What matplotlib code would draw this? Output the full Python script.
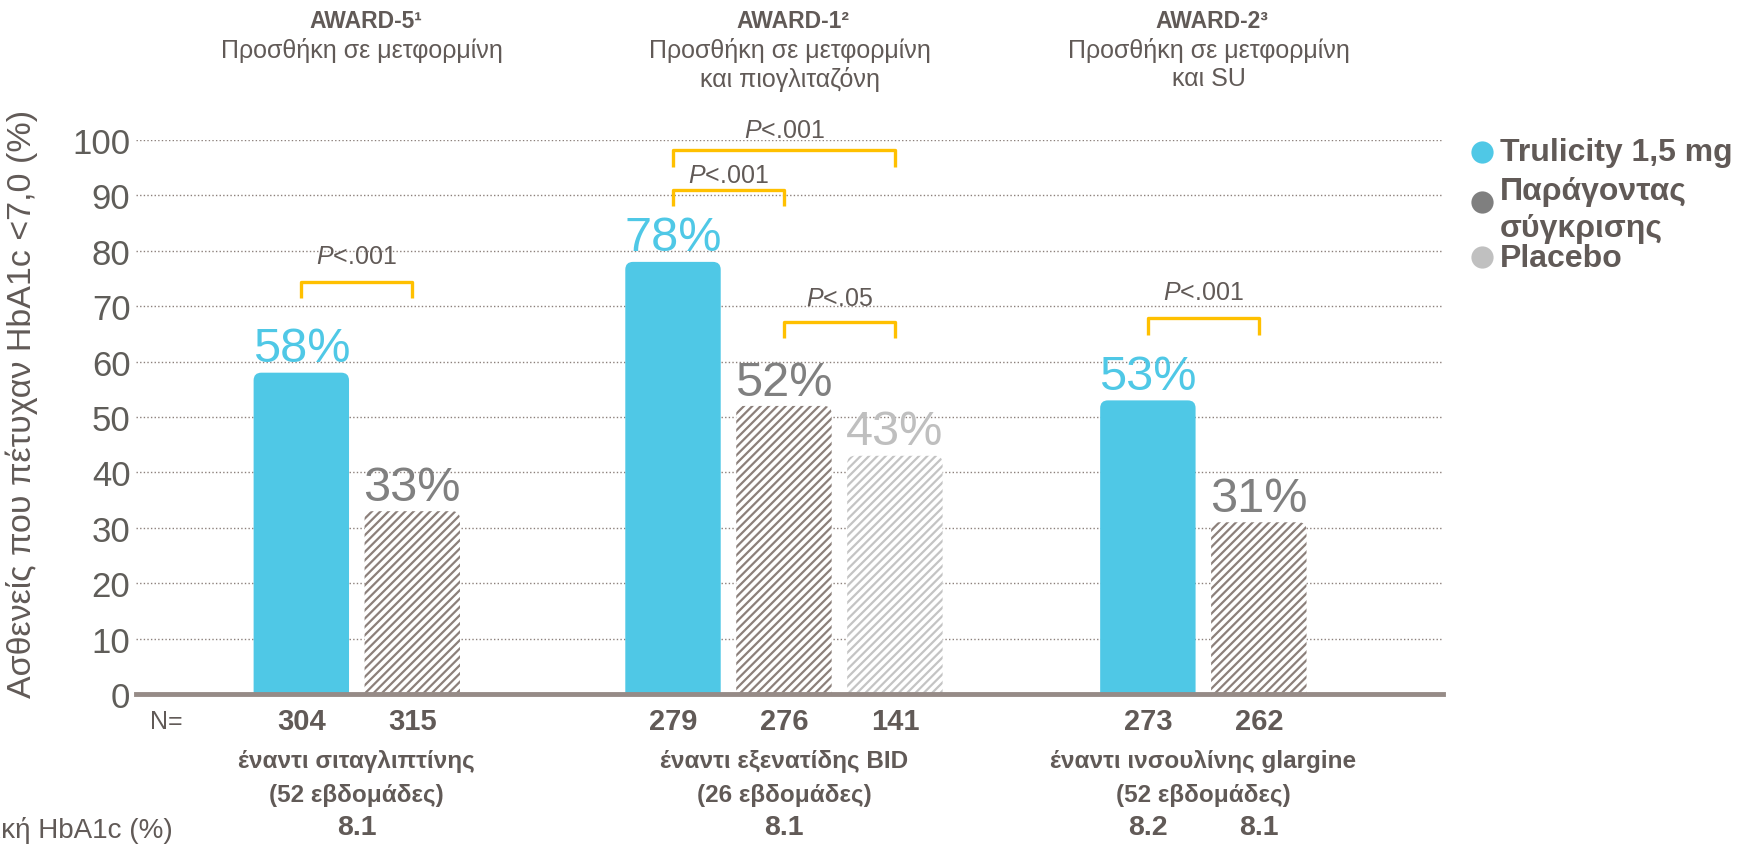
import matplotlib
matplotlib.use("Agg")
import matplotlib.pyplot as plt
from matplotlib.patches import FancyBboxPatch
from matplotlib.lines import Line2D
from matplotlib import transforms

plt.rcParams['font.family'] = ['Liberation Sans', 'DejaVu Sans']
plt.rcParams['mathtext.fontset'] = 'custom'
plt.rcParams['mathtext.it'] = 'Liberation Sans:italic'
plt.rcParams['mathtext.rm'] = 'Liberation Sans'
plt.rcParams['hatch.linewidth'] = 1.6

# ---------------- data ----------------
study_names = ['AWARD-5¹', 'AWARD-1²', 'AWARD-2³']
study_desc = ['Προσθήκη σε μετφορμίνη',
              'Προσθήκη σε μετφορμίνη\nκαι πιογλιταζόνη',
              'Προσθήκη σε μετφορμίνη\nκαι SU']
comparators = ['έναντι σιταγλιπτίνης', 'έναντι εξενατίδης BID', 'έναντι ινσουλίνης glargine']
durations = ['(52 εβδομάδες)', '(26 εβδομάδες)', '(52 εβδομάδες)']

# per-bar values (group index, series)
bar_group = [0, 0, 1, 1, 1, 2, 2]
bar_slot = [0, 1, 0, 1, 2, 0, 1]
bar_series = ['Trulicity', 'Comparator', 'Trulicity', 'Comparator', 'Placebo', 'Trulicity', 'Comparator']
bar_values = [58, 33, 78, 52, 43, 53, 31]
bar_n = [304, 315, 279, 276, 141, 273, 262]

# baseline HbA1c labels: (group, slot or None for group centre, text)
baseline_group = [0, 1, 2, 2]
baseline_slot = [None, 1, 0, 1]
baseline_text = ['8.1', '8.1', '8.2', '8.1']

# significance brackets
br_group = [0, 1, 1, 1, 2]
br_from = [0, 0, 0, 1, 0]
br_to = [1, 2, 1, 2, 1]
br_top = [74.4, 98.2, 91.0, 67.2, 67.8]
br_text_y = [79.0, 101.8, 93.6, 71.4, 72.6]
br_label = ['$\\mathit{P}$<.001', '$\\mathit{P}$<.001', '$\\mathit{P}$<.001',
            '$\\mathit{P}$<.05', '$\\mathit{P}$<.001']

legend_labels = ['Trulicity 1,5 mg', 'Παράγοντας', 'σύγκρισης', 'Placebo']

# ---------------- style ----------------
BLUE = '#4FC8E6'
DARK = '#8c807b'
LIGHT = '#c4c4c4'
TXT = '#615a57'
series_style = {
    'Trulicity': dict(fc=BLUE, ec=BLUE, hatch=None, label_color=BLUE),
    'Comparator': dict(fc='white', ec=DARK, hatch='////', label_color='#808080'),
    'Placebo': dict(fc='white', ec=LIGHT, hatch='////', label_color='#bfbfbf'),
}
group_start = [0.0, 3.35, 7.63]
bar_w = 0.86

W, H = 1750, 845
fig = plt.figure(figsize=(W / 100, H / 100), dpi=100)
ax = fig.add_axes([136 / W, 1 - 695 / H, (1443 - 136) / W, (695 - 141) / H])
ax.set_xlim(-1.49, 10.29)
ax.set_ylim(0, 100)

xs = [group_start[g] + s for g, s in zip(bar_group, bar_slot)]

# bars
bars = ax.bar(xs, bar_values, width=bar_w, color='none', edgecolor='none')
for rect, ser, v in zip(bars, bar_series, bar_values):
    st = series_style[ser]
    x0, w, h = rect.get_x(), rect.get_width(), rect.get_height()
    rect.set_visible(False)
    p = FancyBboxPatch((x0, -3), w, h + 3,
                       boxstyle='round,pad=0,rounding_size=0.07',
                       mutation_aspect=20,
                       facecolor=st['fc'], edgecolor=st['ec'], hatch=st['hatch'],
                       linewidth=0, zorder=2)
    ax.add_patch(p)
    ax.annotate(f'{v}%', (x0 + w / 2, h), xytext=(0, 1), textcoords='offset points',
                ha='center', va='bottom', fontsize=35, color=st['label_color'], zorder=4)

# grid
ax.set_yticks(range(0, 101, 10))
ax.yaxis.grid(True, linestyle=(0, (1, 1.6)), color='#8c807b', linewidth=1.0)
ax.set_axisbelow(True)
ax.axhline(0, color='#968b87', linewidth=3.5, zorder=3, clip_on=False)
for s in ax.spines.values():
    s.set_visible(False)
ax.set_xticks([])
ax.tick_params(axis='y', length=0, pad=4, labelsize=25, labelcolor='#5f5d59')

fig.text(22 / W, 1 - 404 / H, 'Ασθενείς που πέτυχαν HbA1c <7,0 (%)', rotation=90,
         ha='center', va='center', fontsize=24.5, color=TXT)

# brackets
for g, a, b, top, ty, lab in zip(br_group, br_from, br_to, br_top, br_text_y, br_label):
    x1, x2 = group_start[g] + a, group_start[g] + b
    ax.plot([x1, x1, x2, x2], [top - 3, top, top, top - 3], color='#FFC000', lw=2.4,
            solid_joinstyle='round', solid_capstyle='butt', clip_on=False, zorder=4)
    ax.text((x1 + x2) / 2, ty, lab, ha='center', va='center', fontsize=18,
            color=TXT, clip_on=False)

# headers
xfig = transforms.blended_transform_factory(ax.transData, fig.transFigure)
n_per_group = [bar_group.count(g) for g in range(3)]
gcent = [group_start[g] + (n_per_group[g] - 1) / 2 for g in range(3)]
for g in range(3):
    ax.text(gcent[g] + 0.08, 1 - 22 / H, study_names[g], transform=xfig, ha='center', va='center',
            fontsize=16.5, fontweight='bold', color=TXT)
    ax.text(gcent[g] + 0.05, 1 - 38 / H, study_desc[g], transform=xfig, ha='center', va='top',
            fontsize=18, color=TXT, linespacing=1.22)
    ax.text(gcent[g], 1 - 762 / H, comparators[g], transform=xfig, ha='center', va='center',
            fontsize=17.5, fontweight='bold', color=TXT)
    ax.text(gcent[g], 1 - 796 / H, durations[g], transform=xfig, ha='center', va='center',
            fontsize=17.5, fontweight='bold', color=TXT)

# N row
fig.text(150 / W, 1 - 722 / H, 'N=', ha='left', va='center', fontsize=18, color=TXT)
for x, n in zip(xs, bar_n):
    ax.text(x, 1 - 722 / H, str(n), transform=xfig, ha='center', va='center',
            fontsize=21, fontweight='bold', color=TXT)

# baseline row
fig.text(173 / W, 1 - 831 / H, 'Αρχική HbA1c (%)', ha='right', va='center', fontsize=20, color=TXT)
for g, s, t in zip(baseline_group, baseline_slot, baseline_text):
    x = gcent[g] if s is None else group_start[g] + s
    ax.text(x, 1 - 828 / H, t, transform=xfig, ha='center', va='center',
            fontsize=20.5, fontweight='bold', color=TXT)

# legend (manual layout)
leg_marker_y = [153, 203, 258]
leg_marker_c = [BLUE, '#7f7f7f', '#c0c0c0']
for y, c in zip(leg_marker_y, leg_marker_c):
    fig.add_artist(Line2D([1482 / W], [1 - y / H], marker='o', markersize=16,
                          markerfacecolor=c, markeredgecolor='none', linestyle='none',
                          transform=fig.transFigure))
leg_text_y = [153, 192, 229, 259]
for y, t in zip(leg_text_y, legend_labels):
    fig.text(1500 / W, 1 - y / H, t, ha='left', va='center', fontsize=23,
             fontweight='bold', color=TXT)

fig.savefig('out.png', dpi=100)
